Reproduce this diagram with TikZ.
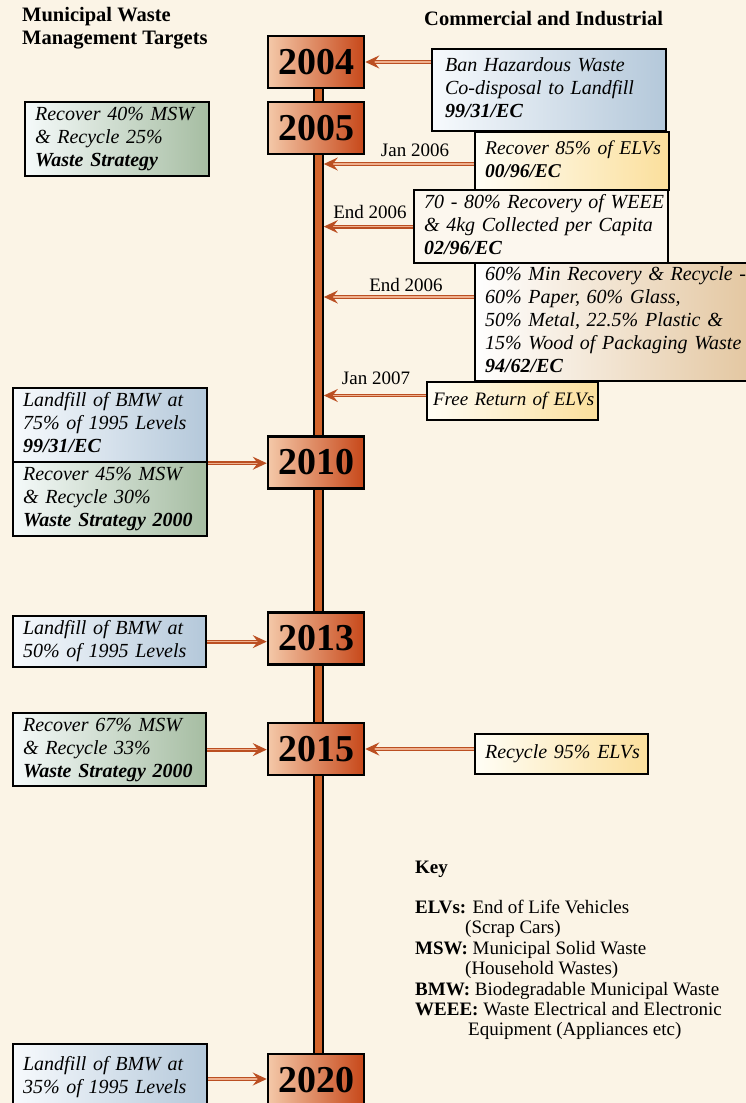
\documentclass[tikz,border=0pt]{standalone}
\usepackage{fontspec}
\setmainfont{Liberation Serif}
\usetikzlibrary{arrows.meta,calc}
\definecolor{bg}{HTML}{FBF4E6}
\definecolor{blueR}{HTML}{B4C8DA}
\definecolor{blueL}{HTML}{F7FAFD}
\definecolor{greenR}{HTML}{A6BDA2}
\definecolor{greenL}{HTML}{F5FAFA}
\definecolor{yelR}{HTML}{FBDF9C}
\definecolor{yelL}{HTML}{FFFEF6}
\definecolor{tanR}{HTML}{E2C49C}
\definecolor{tanL}{HTML}{FFFFFF}
\definecolor{yearL}{HTML}{F4C8A8}
\definecolor{yearR}{HTML}{C7481A}
\definecolor{arrC}{HTML}{BB4F22}
\definecolor{arrI}{HTML}{EFB08E}
\definecolor{barC}{HTML}{D3652C}
\definecolor{plain}{HTML}{FCF7EE}
\newcommand\lines[1]{\begin{tabular}{@{}l@{}}#1\end{tabular}}
\tikzset{
  yearbox/.style={draw=black, line width=2.5pt, left color=yearL, right color=yearR,
    minimum width=96pt, minimum height=52pt, inner sep=0pt,
    font=\bfseries\fontsize{38}{38}\selectfont},
  tbox/.style 2 args={draw=black, line width=2.2pt, anchor=north west, align=left,
    inner xsep=10pt, inner ysep=0pt, text width=#1-20pt, minimum height=#2,
    font=\itshape\fontsize{20}{23}\selectfont},
  blueF/.style={left color=blueL, right color=blueR},
  greenF/.style={left color=greenL, right color=greenR},
  yelF/.style={left color=yelL, right color=yelR},
  tanF/.style={left color=tanL, right color=tanR},
  conn/.style={draw=arrC, double=arrI, double distance=1.3pt, line width=1.3pt,
    -{Stealth[length=14pt,width=13pt,inset=5pt]}},
  datelbl/.style={font=\fontsize{19}{19}\selectfont, inner sep=0pt},
  hdr/.style={font=\bfseries\fontsize{20.5}{23}\selectfont, align=left, inner sep=0pt, anchor=north west},
}
\begin{document}
\begin{tikzpicture}[x=1pt,y=-1pt]
\useasboundingbox (0,0) rectangle (746,1103);
\clip (0,0) rectangle (746,1103);
\fill[bg] (0,0) rectangle (746,1103);

% timeline bar
\node[draw=black, line width=1.6pt, fill=barC, minimum width=9pt, minimum height=1030pt,
  anchor=north, inner sep=0pt] (bar) at (318.5,65) {};

% year boxes
\node[yearbox] (y2004) at (316,62) {2004};
\node[yearbox] (y2005) at (316,128) {2005};
\node[yearbox] (y2010) at (316,462.5) {2010};
\node[yearbox] (y2013) at (316,638.5) {2013};
\node[yearbox] (y2015) at (316,749) {2015};
\node[yearbox] (y2020) at (316,1080) {2020};

% headers
\node[hdr] (hl) at (22,7) {Municipal Waste\\Management Targets};
\node[hdr] (hr) at (424,11) {Commercial and Industrial};

% left boxes
\node[tbox={184pt}{74pt}, greenF] (g40) at (24,101)
  {\lines{Recover 40\% MSW\\\& Recycle 25\%\\\textbf{Waste Strategy}}};
\node[tbox={194pt}{74pt}, blueF] (b75) at (12,387)
  {\lines{Landfill of BMW at\\75\% of 1995 Levels\\\textbf{99/31/EC}}};
\node[tbox={194pt}{74pt}, greenF] (g45) at (12,461)
  {\lines{Recover 45\% MSW\\\& Recycle 30\%\\\textbf{Waste Strategy 2000}}};
\node[tbox={193pt}{51pt}, blueF] (b50) at (12,615)
  {\lines{Landfill of BMW at\\50\% of 1995 Levels}};
\node[tbox={193pt}{73pt}, greenF] (g67) at (12,712)
  {\lines{Recover 67\% MSW\\\& Recycle 33\%\\\textbf{Waste Strategy 2000}}};
\node[tbox={194pt}{72pt}, blueF] (b35) at (12,1043)
  {\lines{Landfill of BMW at\\35\% of 1995 Levels\\[6pt]}};

% right boxes
\node[tbox={234pt}{82pt}, blueF, inner xsep=13pt, text width=208pt] (ban) at (431,48)
  {\lines{Ban Hazardous Waste\\Co-disposal to Landfill\\\textbf{99/31/EC}}};
\node[tbox={194pt}{58pt}, yelF, font=\itshape\fontsize{19.5}{23}\selectfont] (e85) at (474,131)
  {\lines{Recover 85\% of ELVs\\\textbf{00/96/EC}}};
\node[tbox={254pt}{73pt}, fill=plain] (weee) at (413,189)
  {\lines{70 - 80\% Recovery of WEEE\\\& 4kg Collected per Capita\\\textbf{02/96/EC}}};
\node[tbox={290pt}{118pt}, tanF] (pack) at (474,262)
  {\lines{60\% Min Recovery \& Recycle -\\60\% Paper, 60\% Glass,\\50\% Metal, 22.5\% Plastic \&\\15\% Wood of Packaging Waste\\\textbf{94/62/EC}}};
\node[tbox={171pt}{38pt}, yelF, inner xsep=6pt, text width=159pt,
  font=\itshape\fontsize{19}{23}\selectfont] (free) at (426,381)
  {\lines{Free Return of ELVs}};
\node[tbox={173pt}{40pt}, yelF] (r95) at (474,733)
  {\lines{Recycle 95\% ELVs}};

% connectors right
\draw[conn] (ban.west |- y2004.east) -- (y2004.east);
\draw[conn] (e85.west |- 0,164) -- (bar.east |- 0,164);
\draw[conn] (weee.west) -- (bar.east |- weee.west);
\draw[conn] (pack.west |- 0,297) -- (bar.east |- 0,297);
\draw[conn] (free.west |- 0,395.5) -- (bar.east |- 0,395.5);
\draw[conn] (r95.west |- y2015.east) -- (y2015.east);

% connectors left
\draw[conn] (b75.south east) -- (y2010.west |- b75.south east);
\draw[conn] (b50.east) -- (y2013.west |- b50.east);
\draw[conn] (g67.east) -- (y2015.west |- g67.east);
\draw[conn] (b35.east |- 0,1079) -- (y2020.west |- 0,1079);

% date labels
\node[datelbl] (l1) at (415,150) {Jan 2006};
\node[datelbl] (l2) at (370,212) {End 2006};
\node[datelbl] (l3) at (406,285) {End 2006};
\node[datelbl] (l4) at (376,378) {Jan 2007};

% key
\node[hdr, font=\bfseries\fontsize{19}{19}\selectfont] (key) at (415,861) {Key};
\node[anchor=north west, inner sep=0pt, align=left, font=\fontsize{19}{20.4}\selectfont] (keytxt) at (415,900)
  {\textbf{ELVs:} End of Life Vehicles\\
   \hspace*{50pt}(Scrap Cars)\\
   \textbf{MSW:} Municipal Solid Waste\\
   \hspace*{50pt}(Household Wastes)\\
   \textbf{BMW:} Biodegradable Municipal Waste\\
   \textbf{WEEE:} Waste Electrical and Electronic\\
   \hspace*{53pt}Equipment (Appliances etc)};
\end{tikzpicture}
\end{document}
